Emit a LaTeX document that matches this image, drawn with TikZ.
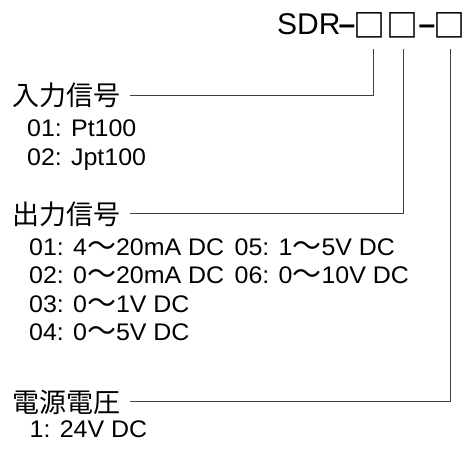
\documentclass[tikz,border=0pt]{standalone}
\usepackage{fontspec}
\setmainfont{Liberation Sans}
\newfontfamily\jp{Noto Sans CJK JP}
\newfontfamily\itemfont[FakeStretch=1.04]{Liberation Sans}
\newcommand{\wv}{{\jp\fontsize{29}{29}\selectfont\raisebox{-1.5pt}{〜}}}
\tikzset{
  lbl/.style={inner sep=0pt, anchor=base west, font=\jp\fontsize{27}{27}\selectfont},
  item/.style={inner sep=0pt, anchor=base west, font=\itemfont\fontsize{24}{24}\selectfont},
  sq/.style={inner sep=0pt, anchor=base, font=\jp\bfseries\fontsize{32}{32}\selectfont},
  dsh/.style={inner sep=0pt, anchor=base, font=\bfseries\fontsize{30}{30}\selectfont},
  conn/.style={draw=black!75, line width=1pt}
}
\begin{document}
\begin{tikzpicture}[x=1pt,y=-1pt]
\useasboundingbox (0,0) rectangle (465,449);
% model code
\node[inner sep=0pt, anchor=base west, font=\fontsize{30}{30}\selectfont] (sdr) at (277,35) {SDR};
\node[dsh] (d1) at (347,35) {–};
\node[sq] (s1) at (369,38) {□};
\node[sq] (s2) at (402.5,38) {□};
\node[dsh] (d2) at (427,35) {–};
\node[sq] (s3) at (449,38) {□};
% labels
\node[lbl] (l1) at (12,106) {入力信号};
\node[item] (a1) at (27,137) {01: Pt100};
\node[item] (a2) at (27,165) {02: Jpt100};
\node[lbl] (l2) at (12,224) {出力信号};
\node[item] (b1) at (29,255) {01: 4\wv 20mA DC};
\node[item] (b5) at (234.5,255) {05: 1\wv 5V DC};
\node[item] (b2) at (29,283) {02: 0\wv 20mA DC};
\node[item] (b6) at (234.5,283) {06: 0\wv 10V DC};
\node[item] (b3) at (29,312) {03: 0\wv 1V DC};
\node[item] (b4) at (29,340) {04: 0\wv 5V DC};
\node[lbl] (l3) at (12,412) {電源電圧};
\node[item] (c1) at (29.5,437) {1: 24V DC};
% connectors
\coordinate (t1) at (373,49);
\coordinate (t2) at (403,49);
\coordinate (t3) at (450,49);
\draw[conn] (t1) |- ([xshift=10pt]l1.east);
\draw[conn] (t2) |- ([xshift=10pt]l2.east);
\draw[conn] (t3) |- ([xshift=10pt]l3.east);
\end{tikzpicture}
\end{document}
